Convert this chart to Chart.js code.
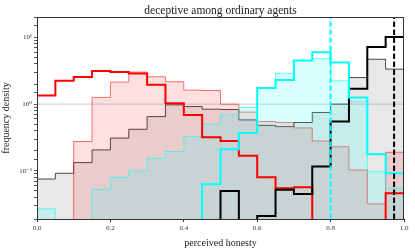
<!DOCTYPE html>
<html>
<head>
<meta charset="UTF-8">
<title>deceptive among ordinary agents</title>
<style>
  html, body { margin: 0; padding: 0; background: #fff; }
  #wrap { width: 415px; height: 249px; }
</style>
</head>
<body>
<div id="wrap"><canvas id="chart" width="415" height="249"></canvas></div>
<script src="https://cdn.jsdelivr.net/npm/chart.js"></script>
<script>
// bin edges (perceived honesty)
const binEdges = [0.00, 0.05, 0.10, 0.15, 0.20, 0.25, 0.30, 0.35, 0.40, 0.45, 0.50,
                  0.55, 0.60, 0.65, 0.70, 0.75, 0.80, 0.85, 0.90, 0.95, 1.00];

// frequency density per bin (0 = empty bin)
const redFilled   = [0, 0, 0.275, 1.26, 2.14, 3.02, 2.57, 2.16, 1.62, 1.6, 1.0, 0.76, 0.55, 0.53, 0.44, 0.28, 0.23, 0.103, 0.032, 0.19];
const redLine     = [1.35, 2.24, 2.54, 3.13, 3.02, 2.88, 1.95, 1.03, 0.69, 0.32, 0.28, 0.169, 0.080, 0.055, 0.057, 0, 0, 0, 0, 0.046];
const grayFilled  = [0.0755, 0.092, 0.133, 0.206, 0.31, 0.42, 0.65, 0.975, 0.92, 0.84, 0.83, 0.58, 0.48, 0.46, 0.53, 0.75, 1.0, 2.5, 4.7, 3.35];
const blackLine   = [0, 0, 0, 0, 0, 0, 0, 0, 0, 0, 0.05, 0, 0.021, 0.052, 0.045, 0.116, 0.55, 1.7, 7.2, 10.1];
const cyanFilled  = [0.027, 0, 0, 0.053, 0.080, 0.10, 0.155, 0.195, 0.33, 0.5, 0.69, 0.89, 1.75, 2.9, 4.5, 4.8, 2.24, 1.1, 0.097, 0.055];
const cyanLine    = [0, 0, 0, 0, 0, 0, 0, 0, 0, 0.063, 0.21, 0.37, 1.74, 2.3, 4.5, 6.0, 4.2, 1.26, 0.178, 0.092];

// mean markers (vertical dashed lines)
const redMean = 0.0;
const cyanMean = 0.8;
const blackMean = 0.973;

const xTicks = [0.0, 0.2, 0.4, 0.6, 0.8, 1.0];
const yMajor = { 0.1: '10\u207B\u00B9', 1: '10\u2070', 10: '10\u00B9' };
const titleText = 'deceptive among ordinary agents';

const Y_MIN = 0.019, Y_MAX = 20.2;
const FLOOR = 1e-4; // where empty bins are drawn (below the axis, clipped)

// histogram -> step points
function steps(vals) {
  const pts = vals.map((v, i) => ({ x: binEdges[i], y: v > 0 ? v : FLOOR }));
  const last = vals[vals.length - 1];
  pts.push({ x: binEdges[binEdges.length - 1], y: last > 0 ? last : FLOOR });
  return pts;
}
function vline(x) {
  return [{ x: x, y: FLOOR }, { x: x, y: 1000 }];
}

const serif = "'Liberation Serif', 'DejaVu Serif', serif";

// box around the plot + title centred over the plot area
const frame = {
  id: 'frame',
  afterDraw(chart) {
    const a = chart.chartArea, ctx = chart.ctx;
    ctx.save();
    ctx.strokeStyle = '#333';
    ctx.lineWidth = 1;
    ctx.strokeRect(a.left + 0.5, a.top + 0.5, a.right - a.left - 1, a.bottom - a.top);
    ctx.fillStyle = '#222';
    ctx.font = '11.5px ' + serif;
    ctx.textAlign = 'center';
    ctx.textBaseline = 'alphabetic';
    ctx.fillText(titleText, (a.left + a.right) / 2, a.top - 3);
    ctx.restore();
  }
};

const common = { pointRadius: 0, stepped: true, tension: 0 };

new Chart(document.getElementById('chart'), {
  type: 'line',
  data: {
    datasets: [
      // top-most first
      { ...common, data: vline(blackMean), stepped: false, borderColor: '#000', borderWidth: 2, borderDash: [5.5, 2.5] },
      { ...common, data: vline(cyanMean), stepped: false, borderColor: '#00ffff', borderWidth: 2, borderDash: [5.5, 2.5] },
      { ...common, data: vline(redMean), stepped: false, borderColor: '#d00000', borderWidth: 1.5, borderDash: [5.5, 2.5] },
      { ...common, data: steps(cyanLine), borderColor: '#00ffff', borderWidth: 2, fill: false },
      { ...common, data: steps(blackLine), borderColor: '#000', borderWidth: 2, fill: false },
      { ...common, data: steps(redLine), borderColor: '#ff0000', borderWidth: 2, fill: false },
      { ...common, data: steps(cyanFilled), borderColor: 'rgba(0,255,255,0.6)', borderWidth: 1, fill: 'start', backgroundColor: 'rgba(0,255,255,0.15)' },
      { ...common, data: steps(redFilled), borderColor: 'rgba(255,0,0,0.55)', borderWidth: 1, fill: 'start', backgroundColor: 'rgba(255,0,0,0.12)' },
      { ...common, data: steps(grayFilled), borderColor: 'rgba(0,0,0,0.7)', borderWidth: 1, fill: 'start', backgroundColor: 'rgba(0,0,0,0.09)' },
      { ...common, data: [{ x: 0, y: 1 }, { x: 1, y: 1 }], stepped: false, borderColor: 'rgba(0,0,0,0.2)', borderWidth: 1 }
    ]
  },
  options: {
    responsive: false,
    animation: false,
    layout: { padding: { left: 0, right: 11, top: 17, bottom: 0 } },
    plugins: {
      legend: { display: false },
      tooltip: { enabled: false },
      title: { display: false }
    },
    scales: {
      x: {
        type: 'linear',
        min: 0, max: 1,
        afterFit(s) { s.height = 30; },
        afterBuildTicks(s) { s.ticks = xTicks.map(v => ({ value: v })); },
        grid: { drawOnChartArea: false, tickLength: 3, color: '#333' },
        border: { display: false },
        ticks: {
          color: '#333', padding: 2,
          font: { family: serif, size: 7 },
          callback: v => v.toFixed(1)
        },
        title: {
          display: true, text: 'perceived honesty', color: '#222',
          font: { family: serif, size: 10 }, padding: { top: 0, bottom: 0 }
        }
      },
      y: {
        type: 'logarithmic',
        min: Y_MIN, max: Y_MAX,
        afterFit(s) { s.width = 37; },
        grid: { drawOnChartArea: false, tickLength: 3, color: '#555' },
        border: { display: false },
        ticks: {
          autoSkip: false, color: '#333', padding: 2,
          font: { family: serif, size: 7 },
          callback: v => yMajor[v] || ''
        },
        title: {
          display: true, text: 'frequency density', color: '#222',
          font: { family: serif, size: 10 }, padding: { top: 0, bottom: 2 }
        }
      }
    }
  },
  plugins: [frame]
});
</script>
</body>
</html>
